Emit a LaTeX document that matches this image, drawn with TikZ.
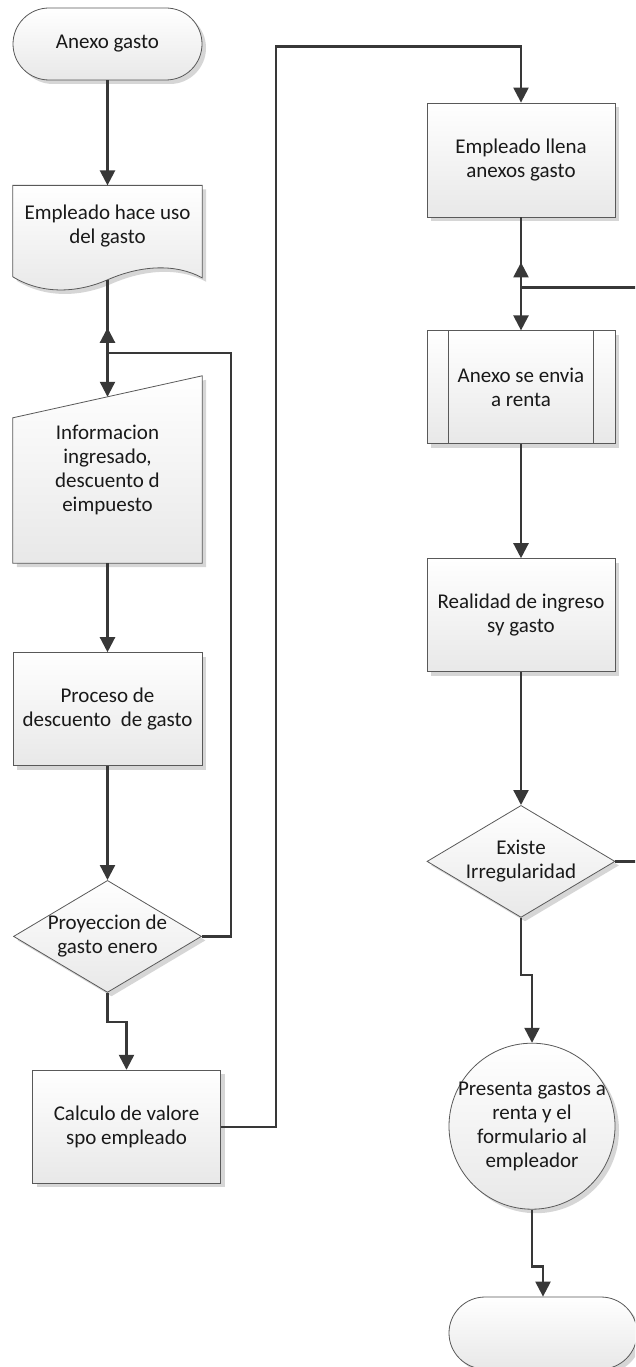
\documentclass[tikz,border=0pt]{standalone}
\usepackage{fontspec}
\setmainfont{Carlito}
\usepackage{tikz}
\usetikzlibrary{arrows.meta,positioning,calc,shapes.geometric,shadows,backgrounds}
\newcommand{\boxfont}{\fontsize{21}{24}\selectfont}

\begin{document}
\begin{tikzpicture}[
    node distance=1cm and 1cm,
    sh/.style={drop shadow={shadow xshift=4pt, shadow yshift=-4pt, opacity=0.35, fill=black!45}},
    shp/.style={draw=black!65, line width=0.8pt, top color=white, bottom color=black!9, sh},
    base/.style={shp, align=center, font=\boxfont, text=black!90, inner sep=0pt},
    pbox/.style={base, rectangle, minimum width=188pt, minimum height=113pt},
    tbox/.style={base, rectangle, rounded corners=36pt, minimum width=189pt, minimum height=72pt},
    hbox/.style={align=center, font=\boxfont, text=black!90, minimum width=189pt, inner sep=0pt},
    dbox/.style={base, diamond, aspect=1.67, minimum width=188pt, minimum height=112pt, inner xsep=-30pt},
    cbox/.style={base, circle, minimum size=166pt, inner sep=-12pt},
    arr/.style={-{Triangle[length=15pt,width=15pt]}, line width=2.3pt, draw=black!78},
    ln/.style={line width=2.3pt, draw=black!78}
]
\useasboundingbox (0,0) rectangle (635pt,-1367pt);
\clip (0,0) rectangle (635pt,-1367pt);
\begin{scope}[on background layer]
  \fill[white] (0,0) rectangle (635pt,-1367pt);
\end{scope}

% left column
\node[tbox] (start) at (107.5pt,-44pt) {Anexo gasto};
\node[hbox, minimum height=80pt, below=105pt of start] (doc) {Empleado hace uso\\del gasto};
\node[hbox, minimum height=187pt, below=110pt of doc] (info) {Informacion\\ingresado,\\descuento d\\eimpuesto};
\node[pbox, minimum width=189pt, below=89pt of info] (proc) {Proceso de\\descuento~ de gasto};
\node[dbox, below=114pt of proc] (proy) {Proyeccion de\\gasto enero};
\node[pbox, below=77pt of proy, xshift=19pt] (calc) {Calculo de valore\\spo empleado};

% right column
\node[pbox, minimum height=114pt] (llena) at (521pt,-160pt) {Empleado llena\\anexos gasto};
\node[pbox, below=113pt of llena] (envia) {Anexo se envia\\a renta};
\node[pbox, below=114pt of envia] (real) {Realidad de ingreso\\sy gasto};
\node[dbox, below=133pt of real] (irreg) {Existe\\Irregularidad};
\node[cbox, below=125pt of irreg, xshift=11pt] (pres) {Presenta gastos a\\renta y el\\formulario al\\empleador};
\node[tbox, minimum width=188pt, below=87pt of pres, xshift=11pt] (fin) {};

% document and manual input outlines
\begin{scope}[on background layer]
  \path[shp] (doc.north west) -- (doc.north east) -- ($(doc.south east)+(0,-12pt)$)
    .. controls ($(doc.south)+(67pt,3pt)$) and ($(doc.south)+(32pt,0pt)$) .. ($(doc.south)+(0,-14pt)$)
    .. controls ($(doc.south)+(-32pt,-28pt)$) and ($(doc.south)+(-67pt,-28pt)$) .. ($(doc.south west)+(0,-11pt)$) -- cycle;
  \path[shp] (info.south west) -- (info.south east) -- (info.north east) -- ($(info.north west)+(0,-42pt)$) -- cycle;
\end{scope}
\draw[black!65, line width=0.8pt] ($(envia.north west)+(22pt,0)$) -- ($(envia.south west)+(22pt,0)$)
      ($(envia.north east)+(-22pt,0)$) -- ($(envia.south east)+(-22pt,0)$);

% connection points
\coordinate (docb) at ($(doc.south)+(0,-14pt)$);
\coordinate (infotop) at ($(info.north)+(0,-21pt)$);
\coordinate (loopTip) at ($(doc.south)+(0,-62pt)$);
\coordinate (retTip) at ($(llena.south)+(0,-45pt)$);
\coordinate (edgeA) at ($(envia.north)+(120pt,43pt)$);
\coordinate (edgeB) at ($(irreg.east)+(30pt,0)$);

% connectors
\draw[arr] (start) -- (doc);
\draw[arr] (docb) -- (infotop);
\draw[arr] (info) -- (proc);
\draw[arr] (proc) -- (proy);
\draw[arr] (proy.south) -- ++(0,-29pt) -| (calc.north);
\draw[arr] (proy.east) -- ++(29pt,0) |- ($(loopTip)+(0,-25pt)$) -- (loopTip);
\draw[arr] (calc.east) -- ++(55pt,0) |- ($(llena.north)+(0,56pt)$) -- (llena.north);
\draw[arr] (llena) -- (envia);
\draw[arr] (edgeA) -| (retTip);
\draw[arr] (envia) -- (real);
\draw[arr] (real) -- (irreg);
\draw[ln] (irreg.east) -- (edgeB);
\draw[arr] (irreg.south) -- ++(0,-57pt) -| (pres.north);
\draw[arr] (pres.south) -- ++(0,-57pt) -| (fin.north);
\end{tikzpicture}
\end{document}
